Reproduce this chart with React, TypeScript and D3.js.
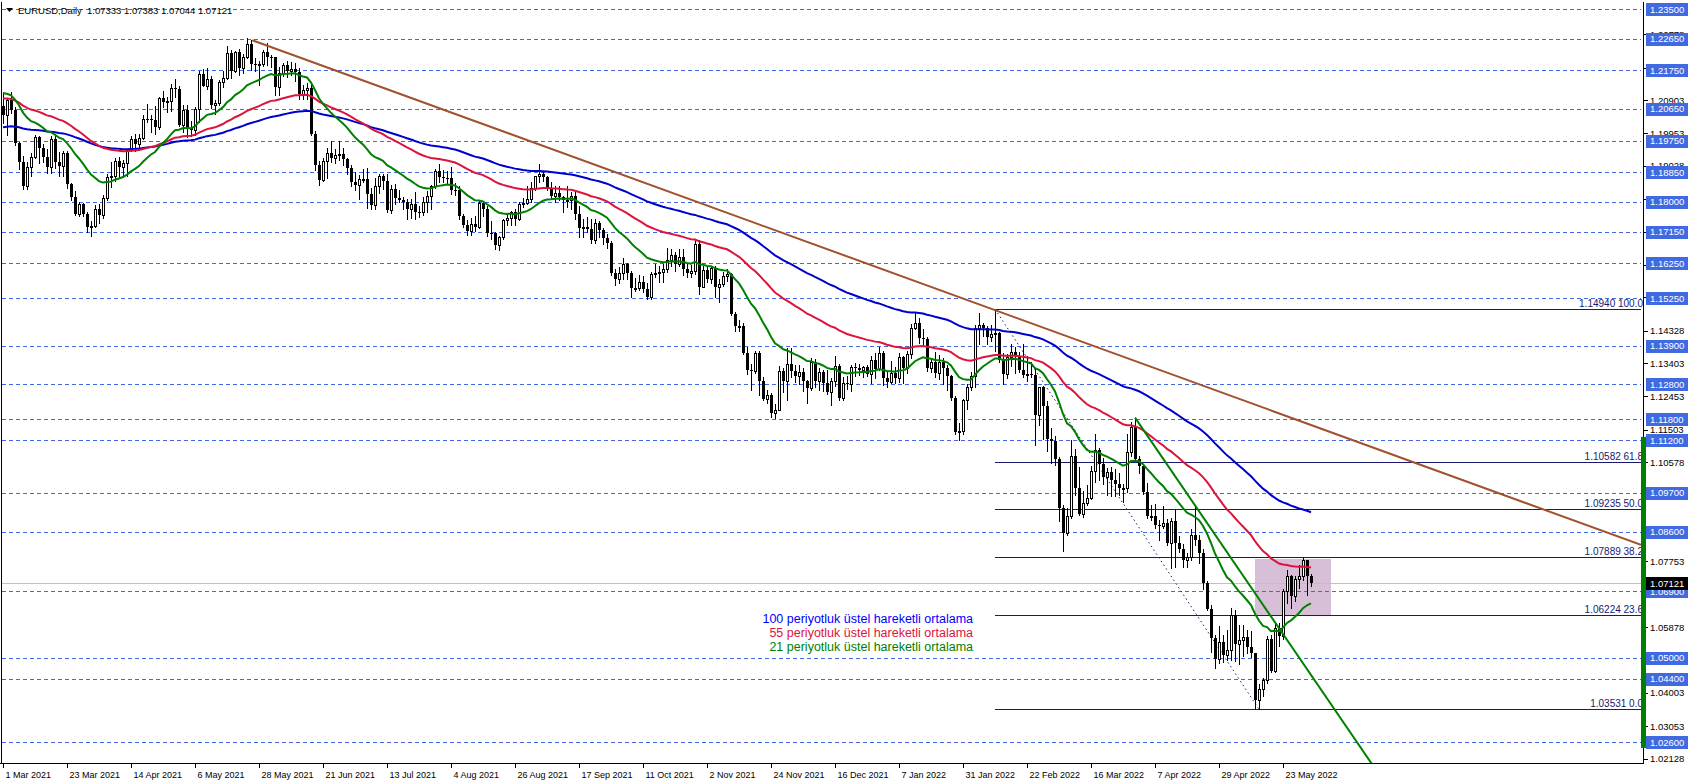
import React from "react";
import * as d3 from "d3";

// ---- data (prices in 1e-4 units) ----
const opens = [12073,12049,12090,12063,11967,11915,11846,11899,11928,11985,11953,11929,11900,11978,11914,11903,11938,11851,11815,11766,11795,11765,11728,11730,11779,11763,11812,11872,11873,11916,11900,11912,11947,11979,11965,11982,12037,12035,12034,12014,12097,12084,12089,12126,12123,12020,12062,12012,12004,12065,12165,12131,12150,12075,12082,12143,12154,12224,12174,12226,12181,12214,12250,12193,12192,12193,12227,12213,12212,12127,12167,12190,12173,12179,12171,12108,12120,12125,11995,11906,11863,11917,11940,11926,11935,11937,11923,11896,11857,11847,11865,11866,11822,11790,11845,11875,11861,11776,11837,11811,11806,11800,11780,11793,11771,11770,11801,11818,11844,11887,11870,11868,11867,11835,11833,11761,11735,11718,11738,11729,11797,11779,11712,11710,11676,11700,11747,11755,11772,11751,11795,11796,11808,11840,11874,11880,11871,11839,11818,11825,11813,11805,11806,11818,11765,11726,11727,11723,11690,11741,11720,11696,11683,11597,11579,11596,11622,11596,11554,11554,11571,11552,11528,11595,11596,11601,11608,11633,11650,11623,11643,11608,11598,11603,11679,11558,11606,11579,11611,11556,11567,11588,11594,11480,11446,11446,11369,11320,11319,11370,11288,11237,11250,11197,11208,11317,11290,11338,11319,11303,11314,11288,11269,11343,11290,11315,11285,11258,11290,11331,11240,11283,11282,11329,11327,11320,11328,11310,11348,11324,11370,11297,11287,11313,11297,11359,11326,11366,11440,11456,11412,11409,11325,11343,11312,11344,11325,11303,11240,11144,11146,11235,11272,11304,11440,11450,11440,11416,11424,11425,11350,11308,11357,11373,11362,11322,11306,11308,11307,11193,11271,11219,11124,11119,11067,10928,10855,10903,11075,10985,10911,10941,10955,11034,11094,11052,11015,11029,11007,10997,10983,10985,11087,11158,11067,11046,10972,10903,10903,10879,10876,10885,10828,10890,10826,10809,10780,10787,10850,10835,10799,10714,10640,10556,10497,10545,10509,10521,10622,10540,10550,10560,10530,10513,10380,10411,10437,10554,10462,10585,10563,10690,10733,10677,10726,10733,10778,10733];
const highs = [12113,12093,12114,12071,11972,11930,11913,11939,11990,11989,11966,11952,11989,11990,11942,11946,11944,11854,11830,11801,11797,11772,11746,11790,11795,11820,11879,11915,11926,11927,11920,11949,11988,11995,11995,12048,12080,12048,12072,12099,12117,12098,12136,12150,12131,12076,12075,12030,12070,12173,12180,12183,12160,12091,12147,12172,12245,12234,12230,12237,12222,12266,12263,12210,12201,12234,12254,12220,12213,12185,12195,12203,12198,12195,12181,12132,12140,12142,12002,11916,11924,11955,11975,11951,11975,11953,11926,11906,11886,11876,11894,11896,11840,11868,11880,11880,11880,11849,11852,11833,11815,11808,11807,11829,11787,11813,11830,11849,11893,11909,11892,11888,11900,11855,11844,11765,11747,11753,11759,11804,11800,11789,11746,11713,11704,11752,11767,11775,11780,11801,11810,11846,11857,11875,11909,11885,11874,11856,11845,11846,11816,11846,11829,11829,11788,11750,11757,11750,11750,11746,11726,11708,11688,11608,11614,11640,11625,11603,11583,11591,11589,11569,11600,11624,11616,11624,11668,11667,11656,11665,11665,11625,11620,11692,11692,11616,11615,11617,11616,11581,11600,11609,11598,11487,11464,11454,11385,11339,11374,11374,11302,11263,11254,11225,11331,11327,11383,11382,11334,11335,11325,11292,11355,11352,11327,11322,11321,11297,11361,11338,11301,11303,11335,11341,11337,11333,11334,11361,11368,11386,11376,11318,11346,11330,11368,11362,11374,11452,11483,11470,11437,11415,11355,11371,11363,11355,11336,11307,11247,11170,11239,11281,11315,11450,11483,11454,11446,11449,11494,11428,11368,11367,11395,11385,11373,11395,11360,11343,11327,11273,11275,11233,11154,11132,11072,10936,10926,11121,11095,11044,10976,10993,11047,11137,11097,11071,11042,11045,11037,11028,10996,11137,11171,11185,11076,11054,10999,10936,10939,10892,10933,10896,10900,10924,10848,10825,10798,10867,10936,10850,10811,10720,10650,10565,10592,10566,10579,10642,10636,10593,10593,10580,10576,10515,10424,10443,10562,10564,10597,10600,10697,10749,10737,10734,10765,10787,10780,10738];
const lows = [12025,11990,12053,11962,11893,11836,11836,11875,11925,11910,11913,11883,11883,11896,11873,11874,11840,11806,11762,11760,11760,11713,11704,11728,11740,11755,11805,11842,11860,11870,11871,11874,11946,11946,11955,11978,12027,12000,11995,12009,12070,12055,12060,12100,12016,12000,11985,11987,11990,12027,12130,12121,12068,12051,12077,12127,12150,12152,12169,12162,12168,12211,12175,12172,12133,12188,12191,12185,12104,12104,12158,12157,12163,12144,12092,12093,12093,11990,11892,11847,11860,11869,11914,11911,11920,11906,11880,11846,11835,11807,11857,11782,11780,11781,11825,11836,11772,11767,11794,11799,11781,11752,11754,11752,11757,11763,11771,11780,11839,11856,11858,11853,11823,11820,11752,11727,11706,11705,11716,11726,11760,11702,11694,11666,11664,11695,11735,11733,11735,11748,11786,11794,11800,11834,11858,11860,11834,11807,11801,11804,11771,11785,11780,11751,11700,11700,11715,11683,11682,11701,11681,11669,11592,11563,11568,11581,11581,11529,11546,11548,11543,11524,11524,11585,11571,11571,11600,11616,11603,11618,11591,11585,11585,11593,11536,11556,11572,11570,11528,11514,11560,11575,11478,11433,11431,11367,11309,11264,11313,11249,11234,11226,11186,11185,11206,11258,11235,11301,11286,11281,11262,11227,11263,11273,11263,11261,11251,11222,11276,11235,11236,11267,11261,11304,11306,11301,11303,11285,11299,11320,11279,11272,11285,11284,11286,11285,11313,11355,11438,11398,11394,11319,11314,11300,11296,11282,11263,11235,11137,11121,11138,11210,11265,11272,11395,11418,11395,11404,11374,11344,11280,11299,11331,11313,11315,11300,11289,11301,11106,11163,11125,11089,11055,11050,10890,10806,10850,10900,10965,10906,10902,10936,10954,11001,11006,10995,10963,10962,10962,10964,10944,10972,11076,11060,11027,10968,10900,10894,10870,10837,10870,10822,10757,10759,10802,10758,10760,10780,10823,10769,10697,10636,10516,10470,10486,10489,10493,10494,10492,10483,10504,10515,10502,10354,10353,10390,10428,10461,10460,10533,10555,10657,10642,10662,10699,10723,10680,10704];
const closes = [12049,12090,12063,11967,11915,11846,11899,11928,11985,11953,11929,11900,11978,11914,11903,11938,11851,11815,11766,11795,11765,11728,11730,11779,11763,11812,11872,11873,11916,11900,11912,11947,11979,11965,11982,12037,12035,12034,12014,12097,12084,12089,12126,12123,12020,12062,12012,12004,12065,12165,12131,12150,12075,12082,12143,12154,12224,12174,12226,12181,12214,12250,12193,12192,12193,12227,12213,12212,12127,12167,12190,12173,12179,12171,12108,12120,12125,11995,11906,11863,11917,11940,11926,11935,11937,11923,11896,11857,11847,11865,11866,11822,11790,11845,11875,11861,11776,11837,11811,11806,11800,11780,11793,11771,11770,11801,11818,11844,11887,11870,11868,11867,11835,11833,11761,11735,11718,11738,11729,11797,11779,11712,11710,11676,11700,11747,11755,11772,11751,11795,11796,11808,11840,11874,11880,11871,11839,11818,11825,11813,11805,11806,11818,11765,11726,11727,11723,11690,11741,11720,11696,11683,11597,11579,11596,11622,11596,11554,11554,11571,11552,11528,11595,11596,11601,11608,11633,11650,11623,11643,11608,11598,11603,11679,11558,11606,11579,11611,11556,11567,11588,11594,11480,11446,11446,11369,11320,11319,11370,11288,11237,11250,11197,11208,11317,11290,11338,11319,11303,11314,11288,11269,11343,11290,11315,11285,11258,11290,11331,11240,11283,11282,11329,11327,11320,11328,11310,11348,11324,11370,11297,11287,11313,11297,11359,11326,11366,11440,11456,11412,11409,11325,11343,11312,11344,11325,11303,11240,11144,11146,11235,11272,11304,11440,11450,11440,11416,11424,11425,11350,11308,11357,11373,11362,11322,11306,11308,11307,11193,11271,11219,11124,11119,11067,10928,10855,10903,11075,10985,10911,10941,10955,11034,11094,11052,11015,11029,11007,10997,10983,10985,11087,11158,11067,11046,10972,10903,10903,10879,10876,10885,10828,10890,10826,10809,10780,10787,10850,10835,10799,10714,10640,10556,10497,10545,10509,10521,10622,10540,10550,10560,10530,10513,10380,10411,10437,10554,10462,10585,10563,10690,10733,10677,10726,10733,10778,10733,10712];

const dateLabels = ["1 Mar 2021","23 Mar 2021","14 Apr 2021","6 May 2021","28 May 2021","21 Jun 2021","13 Jul 2021","4 Aug 2021","26 Aug 2021","17 Sep 2021","11 Oct 2021","2 Nov 2021","24 Nov 2021","16 Dec 2021","7 Jan 2022","31 Jan 2022","22 Feb 2022","16 Mar 2022","7 Apr 2022","29 Apr 2022","23 May 2022"];
const labelEvery = 16;

const levelLines = [1.2350,1.2265,1.2175,1.2065,1.1975,1.1885,1.1800,1.1715,1.1625,1.1525,1.1390,1.1280,1.1180,1.1120,1.0970,1.0860,1.0690,1.0500,1.0440,1.0260];
const autoTicks = [1.02128,1.03053,1.04003,1.04928,1.05878,1.06828,1.07753,1.08678,1.09628,1.10578,1.11503,1.12453,1.13403,1.14328,1.15278,1.16203,1.17153,1.18078,1.19028,1.19953,1.20903,1.21828,1.22778];

const fibLevels = [1.14940,1.10582,1.09235,1.07889,1.06224,1.03531];
const fibPct = ["100.0","61.8","50.0","38.2","23.6","0.0"];
const fibStartBar = 248;
const fibDiag = [[248, 1.1494],[314, 1.03531]];

const brownTrend = [[62.3, 1.2261],[409.5, 1.0822]];
const greenTrend = [[283, 1.1185],[336.3, 1.02961]];
const boxBars = [313, 332];
const boxPrices = [1.0782, 1.0619];
const greenBarPrices = [1.1130, 1.0243];

const emaSeeds = { e21: 1.2110, e55: 1.2095, e100: 1.2013 };
const currentPrice = 1.07121;
const titleSymbol = "EURUSD,Daily";
const titleOHLC = "1.07333 1.07383 1.07044 1.07121";
const legend = [
  { text: "100 periyotluk üstel hareketli ortalama", color: "#0000ff" },
  { text: "55 periyotluk üstel hareketli ortalama", color: "#dc143c" },
  { text: "21 periyotluk üstel hareketli ortalama", color: "#008000" },
];

function ema(vals: number[], period: number, seed: number) {
  const k = 2 / (period + 1);
  let e = seed;
  return vals.map((v, i) => {
    if (i > 0) e = e + k * (v - e);
    return e;
  });
}

const FONT = "'Liberation Sans', Arial, sans-serif";

export default function App() {
  const L = 2, R = 1641, T = 2, B = 763;
  const x = d3.scaleLinear().domain([0, 409.5]).range([3, 1641]);
  const y = d3.scaleLinear().domain([1.026, 1.235]).range([742, 9]);
  const c = closes.map((v) => v / 1e4);
  const e21 = ema(c, 21, emaSeeds.e21);
  const e55 = ema(c, 55, emaSeeds.e55);
  const e100 = ema(c, 100, emaSeeds.e100);
  const line = d3.line<number>().x((_, i) => x(i)).y((d) => y(d));
  const seg = d3.line<number[]>().x((d) => x(d[0])).y((d) => y(d[1]));

  const gSlope = (greenTrend[1][1] - greenTrend[0][1]) / (greenTrend[1][0] - greenTrend[0][0]);
  const gEndBar = greenTrend[0][0] + (1.0150 - greenTrend[0][1]) / gSlope;
  const greenPts = [greenTrend[0], [gEndBar, 1.0150]];

  return (
    <div style={{ position: "fixed", left: 0, top: 0, width: 1690, height: 784, background: "#fff" }}>
      <svg width={1690} height={784} style={{ display: "block" }} fontFamily={FONT}>
        <defs>
          <clipPath id="plot"><rect x={L} y={T} width={R - L} height={B - T} /></clipPath>
        </defs>
        <rect width={1690} height={784} fill="#fff" />
        <g clipPath="url(#plot)">
          <rect x={x(boxBars[0])} y={y(boxPrices[0])} width={x(boxBars[1]) - x(boxBars[0])} height={y(boxPrices[1]) - y(boxPrices[0])} fill="#d8bfd8" />
          {levelLines.map((p) => (
            <line key={p} x1={L} x2={1644} y1={Math.round(y(p)) + 0.5} y2={Math.round(y(p)) + 0.5} stroke="#4169e1" strokeDasharray="4,3" strokeWidth={1} />
          ))}
          <line x1={L} x2={R} y1={Math.round(y(currentPrice)) + 0.5} y2={Math.round(y(currentPrice)) + 0.5} stroke="#c0c0c0" />
          {fibLevels.map((p) => (
            <line key={p} x1={x(fibStartBar)} x2={R} y1={Math.round(y(p)) + 0.5} y2={Math.round(y(p)) + 0.5} stroke="#191970" strokeWidth={1.2} />
          ))}
          <path d={seg(fibDiag) || ""} stroke="#191970" strokeDasharray="1.5,3" fill="none" strokeWidth={1} />
          {/* candles */}
          {closes.map((cl, i) => {
            const o = opens[i] / 1e4, h = highs[i] / 1e4, l = lows[i] / 1e4, cc = cl / 1e4;
            const cx = Math.round(x(i));
            const top = Math.round(y(Math.max(o, cc)));
            const bot = Math.round(y(Math.min(o, cc)));
            const bull = cc >= o;
            return (
              <g key={i}>
                <line x1={cx + 0.5} x2={cx + 0.5} y1={Math.round(y(h))} y2={Math.round(y(l)) + 1} stroke="#000" />
                {bull ? (
                  <rect x={cx - 0.5} y={top + 0.5} width={2} height={Math.max(bot - top, 1)} fill="#fff" stroke="#000" />
                ) : (
                  <rect x={cx - 1} y={top} width={3} height={Math.max(bot - top, 1)} fill="#000" />
                )}
              </g>
            );
          })}
          <path d={line(e100) || ""} stroke="#0000cd" strokeWidth={2} fill="none" />
          <path d={line(e55) || ""} stroke="#dc143c" strokeWidth={2} fill="none" />
          <path d={line(e21) || ""} stroke="#008000" strokeWidth={2} fill="none" />
          <path d={seg(brownTrend) || ""} stroke="#a0522d" strokeWidth={2} fill="none" />
          <path d={seg(greenPts as number[][]) || ""} stroke="#008000" strokeWidth={2} fill="none" />
        </g>
        {fibLevels.map((p, i) => (
          <text key={"ft" + p} x={1643} y={Math.round(y(p)) - 2} textAnchor="end" fontSize={10} fill="#191970">{p.toFixed(5) + " " + fibPct[i]}</text>
        ))}
        {/* legend */}
        {legend.map((lg, i) => (
          <text key={i} x={973} y={623 + i * 14} textAnchor="end" fontSize={12.5} fill={lg.color}>{lg.text}</text>
        ))}
        {/* title */}
        <path d="M6,8 L13,8 L9.5,12 Z" fill="#000" />
        <text x={18} y={14} fontSize={9.5} fill="#000">{titleSymbol}</text>
        <text x={87} y={14} fontSize={9.5} fill="#000">{titleOHLC}</text>
        {/* axes */}
        <line x1={1643.5} x2={1643.5} y1={T} y2={B + 1} stroke="#000" />
        <line x1={0} x2={1644} y1={B + 0.5} y2={B + 0.5} stroke="#000" />
        <line x1={1.5} x2={1.5} y1={T} y2={B} stroke="#000" />
        {autoTicks.map((p) => (
          <g key={p}>
            <line x1={1644} x2={1648} y1={Math.round(y(p)) + 0.5} y2={Math.round(y(p)) + 0.5} stroke="#000" />
            <text x={1650} y={y(p) + 3.5} fontSize={9.5} fill="#000">{p.toFixed(5)}</text>
          </g>
        ))}
        {levelLines.map((p) => (
          <g key={"lb" + p}>
            <rect x={1646} y={Math.round(y(p)) - 6} width={42} height={13} fill="#4169e1" />
            <text x={1650} y={y(p) + 3.5} fontSize={9.5} fill="#fff">{p.toFixed(5)}</text>
          </g>
        ))}
        <rect x={1646} y={Math.round(y(currentPrice)) - 6} width={42} height={13} fill="#000" />
        <text x={1650} y={y(currentPrice) + 3.5} fontSize={9.5} fill="#fff">{currentPrice.toFixed(5)}</text>
        <rect x={1641} y={y(greenBarPrices[0])} width={5} height={y(greenBarPrices[1]) - y(greenBarPrices[0])} fill="#008000" />
        {dateLabels.map((d, k) => {
          const px = Math.round(x(k * labelEvery)) + 0.5;
          return (
            <g key={d}>
              <line x1={px} x2={px} y1={B} y2={B + 5} stroke="#000" />
              <text x={px + 2} y={778} fontSize={9} fill="#000">{d}</text>
            </g>
          );
        })}
      </svg>
    </div>
  );
}
